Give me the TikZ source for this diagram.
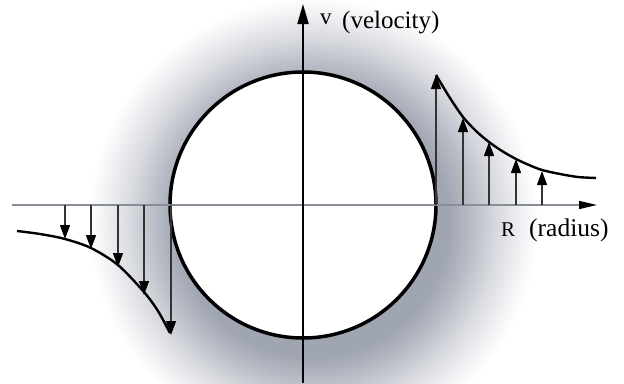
\documentclass[tikz,border=0pt]{standalone}
\usepackage{fontspec}
\setmainfont{Liberation Serif}
\usetikzlibrary{arrows.meta}
\definecolor{shd}{RGB}{160,165,178}
\definecolor{axisgray}{RGB}{135,142,152}
\pgfdeclareradialshading{halo}{\pgfpoint{0bp}{0bp}}{color(0bp)=(shd); color(15bp)=(shd); color(17.5bp)=(shd!75!white); color(20.5bp)=(shd!40!white); color(23.5bp)=(shd!12!white); color(25bp)=(white); color(50bp)=(white)}
\begin{document}
\begin{tikzpicture}[x=1pt,y=-1pt,
  varrow/.style={draw=black!80, line width=1.3pt, -{Triangle[length=14pt,width=10pt,color=black]}},
  vcurve/.style={draw=black, line width=2.4pt},
  lbl/.style={anchor=base west, inner sep=0pt}]
\useasboundingbox (0,0) rectangle (624,383);
\fill[white] (0,0) rectangle (624,383);
\shade[shading=halo] (313,222) circle[radius=225];
\node[draw, circle, line width=3.5pt, fill=white, minimum size=266pt, inner sep=0pt] (disk) at (303,205) {};
% axes
\coordinate (xs) at (12,205);
\coordinate (xe) at (597,205);
\coordinate (ys) at (303,383);
\coordinate (ye) at (303,4);
\draw[axisgray, line width=1.4pt, -{Triangle[length=18pt,width=8pt,color=black]}] (xs) -- (xe);
\draw[black, line width=2pt, -{Triangle[length=20pt,width=11pt]}] (ys) -- (ye);
% right profile
\draw[vcurve] plot[smooth, tension=0.5] coordinates {(436,75) (450,98) (463,117) (476,131) (489,142) (502,151) (516,159) (529,165) (542,170) (560,174) (578,177) (596,178)};
\foreach \n/\x/\y in {1/436/75, 2/463/118, 3/489/142, 4/516/159, 5/542/171} {
  \coordinate (rb\n) at (\x,205);
  \coordinate (rt\n) at (\x,\y);
  \draw[varrow] (rb\n) -- (rt\n);
}
% left profile
\draw[vcurve] plot[smooth, tension=0.5] coordinates {(17,231) (40,234) (65,239) (91,248) (118,265) (144,292) (158,311) (170,333)};
\foreach \n/\x/\y in {1/65/239, 2/91/249, 3/118/267, 4/144/295, 5/171/335} {
  \coordinate (lb\n) at (\x,205);
  \coordinate (lt\n) at (\x,\y);
  \draw[varrow] (lb\n) -- (lt\n);
}
% labels
\node[lbl, font=\fontsize{23}{23}\selectfont] (vl) at (320,24) {v};
\node[lbl, font=\fontsize{25}{25}\selectfont] (vel) at (342,28) {(velocity)};
\node[lbl, font=\fontsize{21}{21}\selectfont] (rl) at (501,236) {R};
\node[lbl, font=\fontsize{25.5}{25.5}\selectfont] (rad) at (529,236) {(radius)};
\end{tikzpicture}
\end{document}
